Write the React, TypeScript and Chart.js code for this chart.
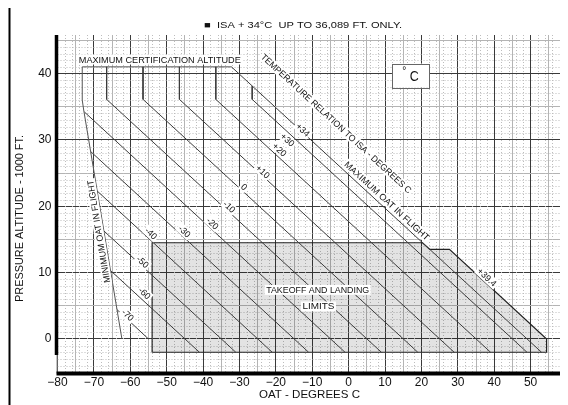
import React, { useEffect, useRef } from 'react';
import { Chart, registerables } from 'chart.js';

Chart.register(...registerables);

type Pt = [number, number];

// Outside air temperature (°C) against pressure altitude (1000 ft)
const oatMin = -80;
const oatMax = 60;
const altMin = -5.2;
const altMax = 45.8;

const oatGridLines = [-80, -75, -70, -65, -60, -55, -50, -45, -40, -35, -30, -25, -20, -15, -10, -5, 0, 5, 10, 15, 20, 25, 30, 35, 40, 45, 50, 55, 60];
const altGridLines = [-5, 0, 5, 10, 15, 20, 25, 30, 35, 40, 45];

// Temperature relation to ISA (deviation in °C) — vertices [OAT, altitude]
const isaDeviations = [-70, -60, -50, -40, -30, -20, -10, 0, 10, 20, 30, 34];
const isaLinePoints: Pt[][] = [
  [[-63.6, 4.4], [-55, 0]],
  [[-65.4, 10.3], [-41, -2]],
  [[-67.3, 16.3], [-31, -2]],
  [[-69.1, 22.3], [-21, -2]],
  [[-70.8, 28.2], [-11, -2]],
  [[-72.6, 34.2], [-1, -2]],
  [[-66.5, 41], [-66.5, 36.1], [9, -2]],
  [[-56.5, 41], [-56.5, 36.1], [19, -2]],
  [[-46.5, 41], [-46.5, 36.1], [29, -2]],
  [[-36.5, 41], [-36.5, 36.1], [39, -2]],
  [[-26.5, 38.1], [-26.5, 36.1], [49, -2]],
  [[-32.2, 41], [53, -2]],
];
// where each deviation is written [OAT, altitude]
const isaLabelSpots: Pt[] = [
  [-60.7, 3.6], [-56.1, 6.9], [-56.6, 11.6], [-54.3, 15.9], [-45.1, 16.2], [-37.4, 17.4],
  [-32.8, 19.9], [-28.7, 22.9], [-23.6, 25.2], [-19.0, 28.5], [-16.8, 30.0], [-12.6, 31.5],
];

// Minimum OAT in flight boundary
const minOatLine: Pt[] = [[-62.3, 0], [-72.8, 34.5], [-73.2, 36], [-73.2, 41]];
// Maximum certification altitude
const maxCertLine: Pt[] = [[-73.2, 41], [-32.2, 41]];
// Takeoff and landing limits envelope (right edge follows ISA +39.4)
const takeoffLimits: Pt[] = [
  [-54, -2], [-54, 14.5], [20.3, 14.5], [22.3, 13.5], [27.7, 13.5], [54.4, 0], [54.4, -2], [-54, -2],
];
const tropoLimitDeviation = 39.4;
const tropoLimitSpot: Pt = [38.0, 9.3];

const FONT = '"Liberation Sans", Arial, Helvetica, sans-serif';

function drawText(
  ctx: CanvasRenderingContext2D,
  text: string,
  x: number,
  y: number,
  size: number,
  width?: number,
  angle = 0,
  bg = false,
) {
  ctx.save();
  ctx.translate(x, y);
  if (angle) ctx.rotate(angle);
  ctx.font = `${size}px ${FONT}`;
  const natural = ctx.measureText(text).width;
  const sx = width ? width / natural : 1;
  ctx.scale(sx, 1);
  if (bg) {
    ctx.fillStyle = '#ffffff';
    ctx.fillRect(-natural / 2 - 1.5 / sx, -size * 0.55, natural + 3 / sx, size * 1.1);
  }
  ctx.fillStyle = '#111111';
  ctx.textAlign = 'center';
  ctx.textBaseline = 'middle';
  ctx.fillText(text, 0, 0.5);
  ctx.restore();
}

const fmtDev = (d: number) => (d > 0 ? `+${d}` : d === 0 ? '0' : `${d}`);

const chartDecor = {
  id: 'chartDecor',
  beforeDatasetsDraw(chart: any) {
    const { ctx, chartArea: a } = chart;
    const x = chart.scales.x;
    const y = chart.scales.y;
    ctx.save();
    ctx.beginPath();
    ctx.rect(a.left, a.top, a.right - a.left, a.bottom - a.top);
    ctx.clip();
    // dotted minor grid
    ctx.strokeStyle = '#bdbdbd';
    ctx.lineWidth = 1;
    ctx.setLineDash([1, 2]);
    ctx.beginPath();
    for (let t = oatMin; t <= oatMax; t += 2) {
      if (t % 5 === 0) continue;
      const px = Math.round(x.getPixelForValue(t)) + 0.5;
      ctx.moveTo(px, a.top);
      ctx.lineTo(px, a.bottom);
    }
    for (let h = -5; h <= 45; h += 1) {
      if (h % 5 === 0) continue;
      const py = Math.round(y.getPixelForValue(h)) + 0.5;
      ctx.moveTo(a.left, py);
      ctx.lineTo(a.right, py);
    }
    ctx.stroke();
    ctx.setLineDash([]);
    // shaded takeoff and landing envelope
    ctx.fillStyle = 'rgba(0,0,0,0.11)';
    ctx.beginPath();
    takeoffLimits.forEach(([t, h], i) => {
      const px = x.getPixelForValue(t);
      const py = y.getPixelForValue(h);
      if (i) ctx.lineTo(px, py);
      else ctx.moveTo(px, py);
    });
    ctx.closePath();
    ctx.fill();
    ctx.restore();
  },
  afterDatasetsDraw(chart: any) {
    const { ctx } = chart;
    const x = chart.scales.x;
    const y = chart.scales.y;
    const P = (t: number, h: number): [number, number] => [x.getPixelForValue(t), y.getPixelForValue(h)];

    const top34 = isaLinePoints[isaLinePoints.length - 1];
    const [ax, ay] = P(top34[0][0], top34[0][1]);
    const [bx, by] = P(top34[1][0], top34[1][1]);
    const isaAngle = Math.atan2(by - ay, bx - ax);

    const [mx1, my1] = P(minOatLine[0][0], minOatLine[0][1]);
    const [mx2, my2] = P(minOatLine[1][0], minOatLine[1][1]);
    const minAngle = Math.atan2(my2 - my1, mx2 - mx1);

    ctx.save();
    // deviation labels
    isaDeviations.forEach((d, i) => {
      const [px, py] = P(isaLabelSpots[i][0], isaLabelSpots[i][1]);
      drawText(ctx, fmtDev(d), px, py, 9, undefined, isaAngle, true);
    });
    {
      const [px, py] = P(tropoLimitSpot[0], tropoLimitSpot[1]);
      drawText(ctx, `+${tropoLimitDeviation}`, px, py, 9, undefined, isaAngle, true);
    }
    {
      const [px, py] = P(-51.9, 42.1);
      drawText(ctx, 'MAXIMUM CERTIFICATION ALTITUDE', px, py, 9, 162, 0, true);
    }
    {
      const [px, py] = P(-3.4, 32.46);
      drawText(ctx, 'TEMPERATURE RELATION TO ISA - DEGREES C', px, py, 9, 201, isaAngle, true);
    }
    {
      const [px, py] = P(10.5, 20.8);
      drawText(ctx, 'MAXIMUM OAT IN FLIGHT', px, py, 9, 112, isaAngle, true);
    }
    {
      const [px, py] = P(-68.7, 16.2);
      drawText(ctx, 'MINIMUM OAT IN FLIGHT', px, py, 9, 104, minAngle, true);
    }
    {
      const [px, py] = P(-8.5, 7.4);
      drawText(ctx, 'TAKEOFF AND LANDING', px, py, 9, 103, 0, true);
    }
    {
      const [px, py] = P(-8.3, 4.9);
      drawText(ctx, 'LIMITS', px, py, 9, 32, 0, true);
    }
    // unit box
    {
      const [x1, y1] = P(11.9, 41.5);
      const [x2, y2] = P(22.2, 37.9);
      ctx.fillStyle = '#ffffff';
      ctx.fillRect(x1, y1, x2 - x1, y2 - y1);
      ctx.strokeStyle = '#666666';
      ctx.lineWidth = 1;
      ctx.strokeRect(Math.round(x1) + 0.5, Math.round(y1) + 0.5, Math.round(x2 - x1), Math.round(y2 - y1));
      const [dx, dy] = P(15.3, 40.4);
      drawText(ctx, '°', dx, dy, 10);
      const [cx, cy] = P(18.0, 39.6);
      drawText(ctx, 'C', cx, cy, 14, 9);
    }
    ctx.restore();
  },
  afterDraw(chart: any) {
    const { ctx, chartArea: a } = chart;
    const y = chart.scales.y;
    ctx.save();
    // heavy axis lines
    ctx.strokeStyle = '#000000';
    ctx.lineWidth = 3.5;
    ctx.beginPath();
    ctx.moveTo(a.left - 1, a.top);
    ctx.lineTo(a.left - 1, y.getPixelForValue(-2.4));
    ctx.stroke();
    ctx.lineWidth = 1;
    ctx.strokeStyle = '#888888';
    ctx.beginPath();
    ctx.moveTo(a.left - 0.5, y.getPixelForValue(-2.4));
    ctx.lineTo(a.left - 0.5, a.bottom);
    ctx.stroke();
    ctx.strokeStyle = '#000000';
    ctx.lineWidth = 4;
    ctx.beginPath();
    ctx.moveTo(a.left - 1, a.bottom);
    ctx.lineTo(chart.width, a.bottom);
    ctx.stroke();
    // outer frame
    ctx.lineWidth = 2;
    ctx.strokeRect(1.5, 1, chart.width + 20, chart.height + 20);
    // titles
    drawText(ctx, '■  ISA + 34°C  UP TO 36,089 FT. ONLY.', 295, 20, 9, 198);
    drawText(ctx, 'OAT - DEGREES C', 301.5, 389, 11.5, 101);
    drawText(ctx, 'PRESSURE ALTITUDE - 1000 FT.', 11.3, 213.5, 11.5, 167, -Math.PI / 2);
    ctx.restore();
  },
};

const lineDataset = (pts: Pt[], color: string, width: number) => ({
  data: pts.map(([t, h]) => ({ x: t, y: h })),
  showLine: true,
  borderColor: color,
  backgroundColor: color,
  borderWidth: width,
  pointRadius: 0,
  pointHoverRadius: 0,
  fill: false,
  tension: 0,
});

export default function App() {
  const ref = useRef<HTMLCanvasElement>(null);

  useEffect(() => {
    document.body.style.overflow = 'hidden';
    const datasets = [
      ...isaLinePoints.map((pts) => lineDataset(pts, '#3c3c3c', 1)),
      lineDataset(minOatLine, '#555555', 1),
      lineDataset(maxCertLine, '#555555', 1),
      lineDataset(takeoffLimits, '#222222', 1.2),
    ];
    const chart = new Chart(ref.current as HTMLCanvasElement, {
      type: 'scatter',
      data: { datasets },
      options: {
        animation: false,
        responsive: false,
        devicePixelRatio: 1,
        layout: { padding: { left: 0, top: 30, right: 61, bottom: 0 } },
        plugins: { legend: { display: false }, tooltip: { enabled: false } },
        events: [],
        scales: {
          x: {
            type: 'linear',
            min: oatMin,
            max: oatMax,
            afterBuildTicks: (s: any) => {
              s.ticks = oatGridLines.map((v) => ({ value: v }));
            },
            afterFit: (s: any) => {
              s.height = 31.5;
            },
            border: { display: false },
            grid: {
              drawTicks: false,
              lineWidth: 1,
              color: (c: any) => (c.tick && c.tick.value % 10 === 0 ? '#3a3a3a' : '#b4b4b4'),
            },
            ticks: {
              autoSkip: false,
              maxRotation: 0,
              padding: 2,
              color: '#111111',
              font: { family: FONT, size: 12 },
              callback: (v: any) => (Number(v) % 10 === 0 ? String(v).replace('-', '\u2212') : ''),
            },
          },
          y: {
            type: 'linear',
            min: altMin,
            max: altMax,
            afterBuildTicks: (s: any) => {
              s.ticks = altGridLines.map((v) => ({ value: v }));
            },
            afterFit: (s: any) => {
              s.width = 49.5;
            },
            border: { display: false },
            grid: {
              drawTicks: false,
              lineWidth: 1,
              color: (c: any) => (c.tick && c.tick.value % 10 === 0 ? '#3a3a3a' : '#b4b4b4'),
            },
            ticks: {
              autoSkip: false,
              padding: 6,
              color: '#111111',
              font: { family: FONT, size: 12 },
              callback: (v: any) => (Number(v) % 10 === 0 ? String(v) : ''),
            },
          },
        },
      },
      plugins: [chartDecor],
    } as any);
    return () => chart.destroy();
  }, []);

  return (
    <div style={{ width: 560, height: 400, marginTop: -3, overflow: 'hidden', position: 'relative' }}>
      <canvas ref={ref} width={620} height={400} style={{ display: 'block', width: 620, height: 400 }} />
    </div>
  );
}
